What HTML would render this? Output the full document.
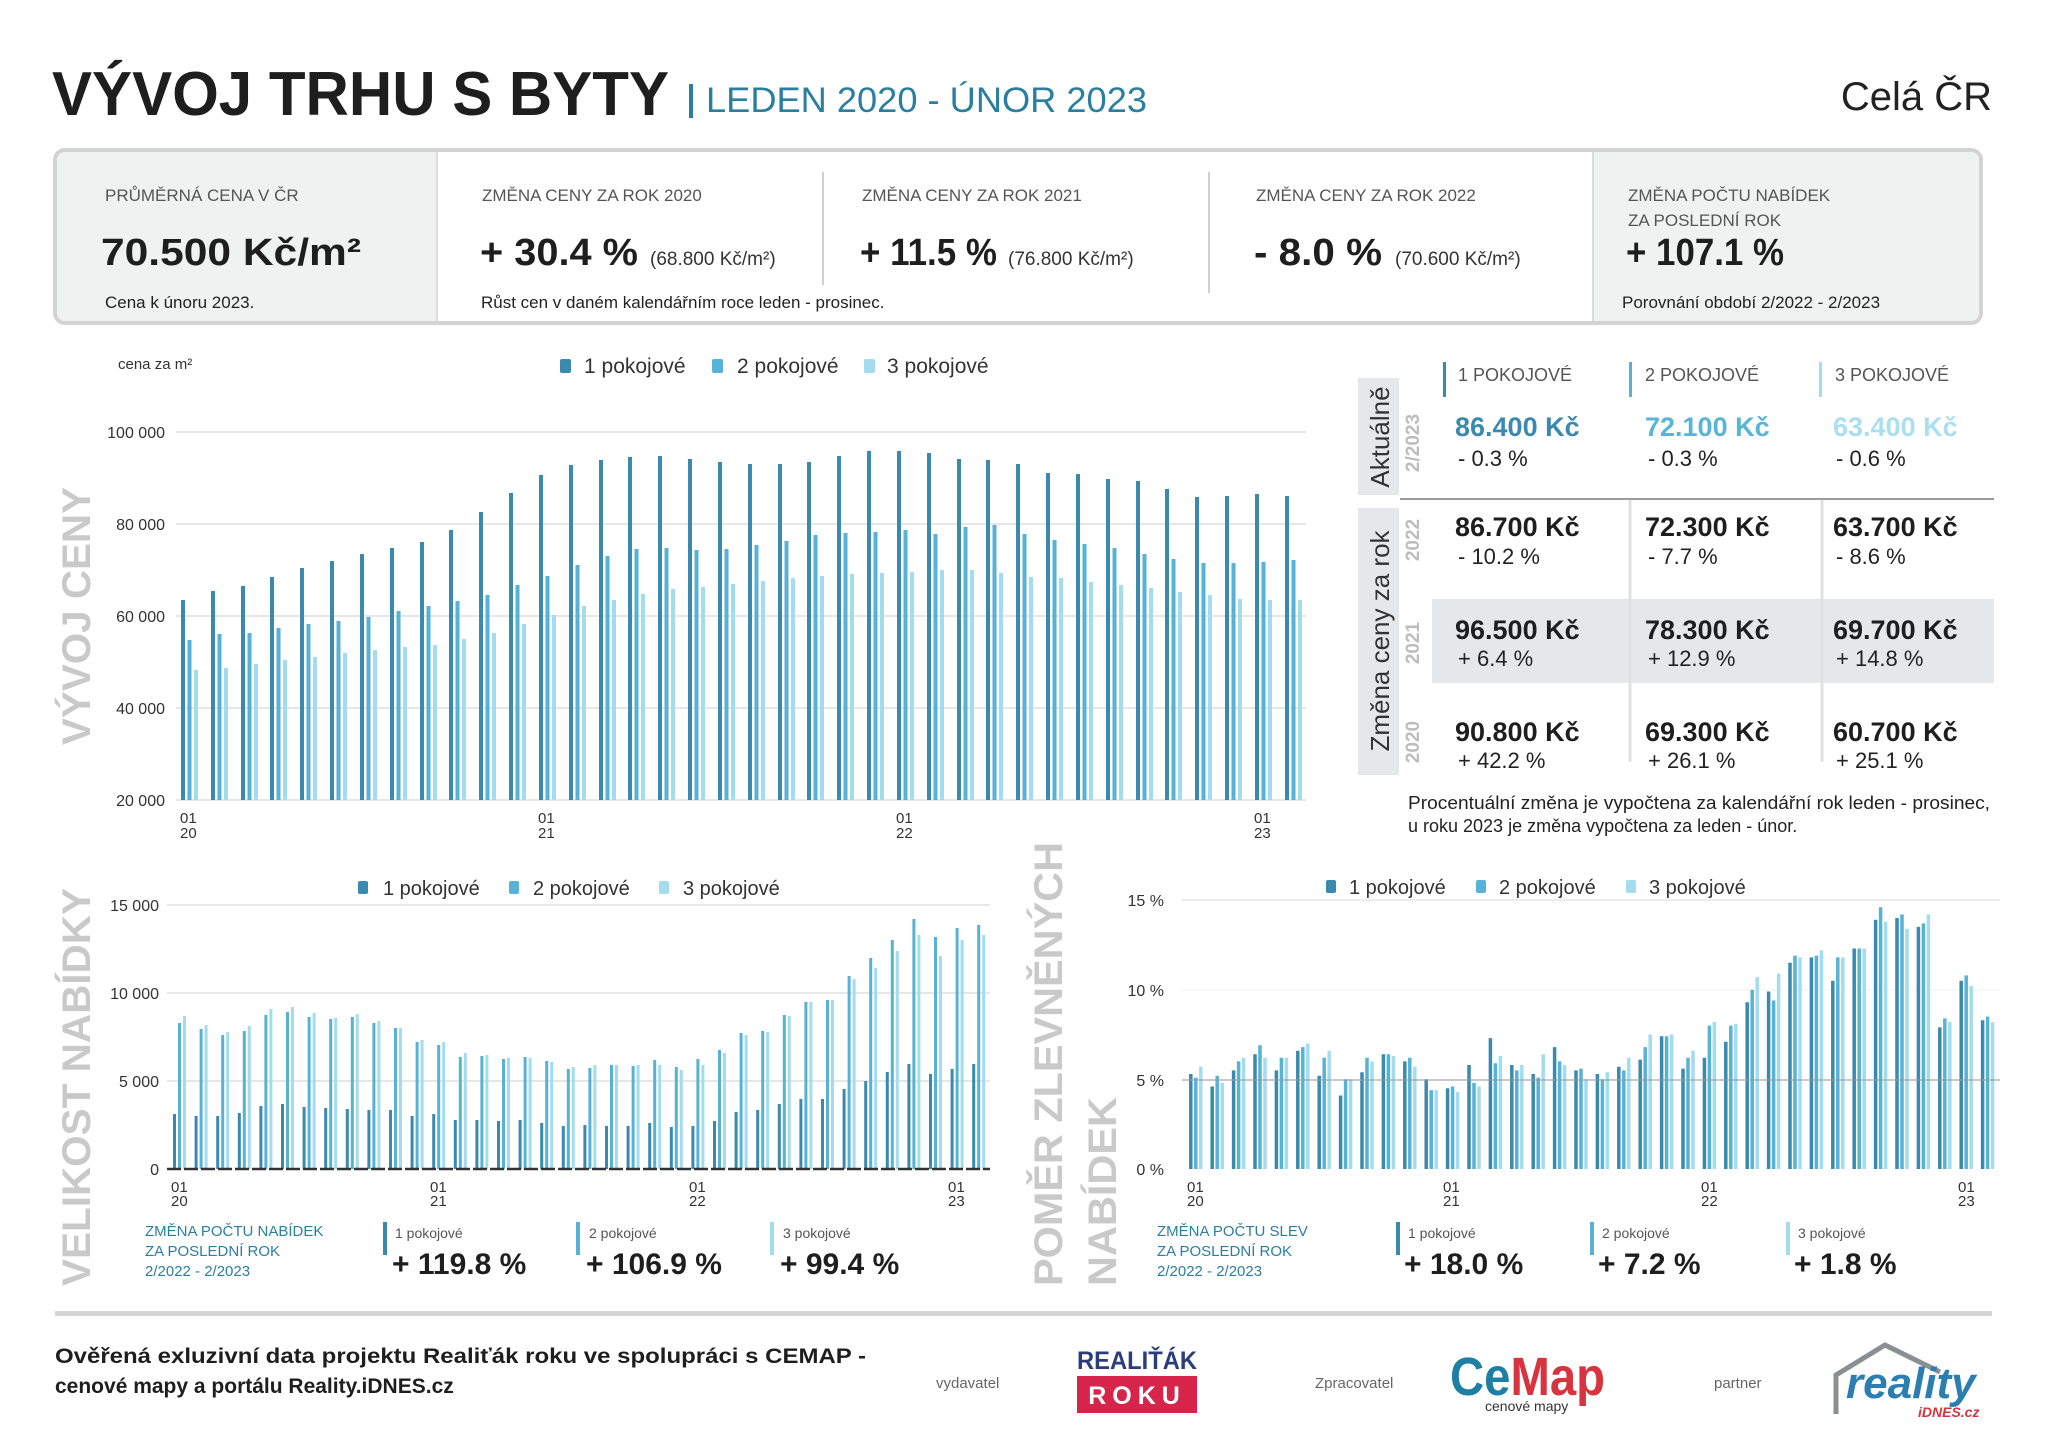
<!DOCTYPE html>
<html><head><meta charset="utf-8"><style>
html,body{margin:0;padding:0;background:#fff;}
svg{display:block;font-family:"Liberation Sans",sans-serif;}
</style></head><body>
<svg width="2048" height="1448" viewBox="0 0 2048 1448" xmlns="http://www.w3.org/2000/svg">
<rect width="2048" height="1448" fill="#fff"/>
<text x="52" y="115" font-size="62" font-weight="bold" fill="#1e1e1e" textLength="617" lengthAdjust="spacingAndGlyphs">VÝVOJ TRHU S BYTY</text>
<rect x="689" y="84" width="4" height="34" fill="#2a7fa0"/>
<text x="706" y="112" font-size="35" fill="#2a7fa0" textLength="441" lengthAdjust="spacingAndGlyphs">LEDEN 2020 - ÚNOR 2023</text>
<text x="1992" y="110" font-size="40" fill="#222" text-anchor="end">Celá ČR</text>

<rect x="55" y="150" width="1926" height="173" rx="10" fill="#fff" stroke="#d3d3d3" stroke-width="4"/>
<path d="M437 152 H65 Q57 152 57 162 V311 Q57 321 65 321 H437 Z" fill="#f0f1f1"/>
<path d="M1593 152 H1971 Q1979 152 1979 162 V311 Q1979 321 1971 321 H1593 Z" fill="#f0f1f1"/>
<line x1="437" y1="152" x2="437" y2="321" stroke="#dcdcdc" stroke-width="2"/>
<line x1="1593" y1="152" x2="1593" y2="321" stroke="#dcdcdc" stroke-width="2"/>
<line x1="823" y1="172" x2="823" y2="285" stroke="#d0d0d0" stroke-width="2"/>
<line x1="1209" y1="172" x2="1209" y2="293" stroke="#d0d0d0" stroke-width="2"/>
<g font-size="17" fill="#555">
<text x="105" y="201">PRŮMĚRNÁ CENA V ČR</text>
<text x="482" y="201">ZMĚNA CENY ZA ROK 2020</text>
<text x="862" y="201">ZMĚNA CENY ZA ROK 2021</text>
<text x="1256" y="201">ZMĚNA CENY ZA ROK 2022</text>
<text x="1628" y="201">ZMĚNA POČTU NABÍDEK</text>
<text x="1628" y="226">ZA POSLEDNÍ ROK</text>
</g>
<g font-size="38" font-weight="bold" fill="#1e1e1e">
<text x="101" y="265" textLength="260" lengthAdjust="spacingAndGlyphs">70.500 Kč/m²</text>
<text x="480" y="265" textLength="158" lengthAdjust="spacingAndGlyphs">+ 30.4 %</text>
<text x="860" y="265" textLength="137" lengthAdjust="spacingAndGlyphs">+ 11.5 %</text>
<text x="1254" y="265" textLength="128" lengthAdjust="spacingAndGlyphs">- 8.0 %</text>
<text x="1626" y="265" textLength="158" lengthAdjust="spacingAndGlyphs">+ 107.1 %</text>
</g>
<g font-size="19" fill="#333">
<text x="650" y="265">(68.800 Kč/m²)</text>
<text x="1008" y="265">(76.800 Kč/m²)</text>
<text x="1395" y="265">(70.600 Kč/m²)</text>
</g>
<g font-size="17" fill="#222">
<text x="105" y="308">Cena k únoru 2023.</text>
<text x="481" y="308">Růst cen v daném kalendářním roce leden - prosinec.</text>
<text x="1622" y="308">Porovnání období 2/2022 - 2/2023</text>
</g>

<!-- Top chart -->
<text x="118" y="369" font-size="15" fill="#333">cena za m²</text>
<g font-size="21" fill="#333">
<rect x="560" y="359" width="11" height="14" rx="2" fill="#3a8ab0"/><text x="584" y="373">1 pokojové</text>
<rect x="712" y="359" width="11" height="14" rx="2" fill="#56b2d6"/><text x="737" y="373">2 pokojové</text>
<rect x="864" y="359" width="11" height="14" rx="2" fill="#a3dcef"/><text x="887" y="373">3 pokojové</text>
</g>
<g stroke="#e7e7e7" stroke-width="2">
<line x1="176" y1="432" x2="1306" y2="432"/>
<line x1="176" y1="524" x2="1306" y2="524"/>
<line x1="176" y1="616" x2="1306" y2="616"/>
<line x1="176" y1="708" x2="1306" y2="708"/>
<line x1="176" y1="800" x2="1306" y2="800"/>
</g>
<g font-size="16" fill="#333" text-anchor="end">
<text x="165" y="438">100 000</text>
<text x="165" y="530">80 000</text>
<text x="165" y="622">60 000</text>
<text x="165" y="714">40 000</text>
<text x="165" y="806">20 000</text>
</g>
<g font-size="15" fill="#333">
<text x="180" y="823">01</text><text x="180" y="838">20</text>
<text x="538" y="823">01</text><text x="538" y="838">21</text>
<text x="896" y="823">01</text><text x="896" y="838">22</text>
<text x="1254" y="823">01</text><text x="1254" y="838">23</text>
</g>
<text transform="translate(90,616) rotate(-90)" font-size="40" font-weight="bold" fill="#c9c9c9" text-anchor="middle" textLength="258" lengthAdjust="spacingAndGlyphs">VÝVOJ CENY</text>
<g fill="none" stroke-width="4">
<path stroke="#3a8ab0" d="M183 800V600M213 800V591M243 800V586M272 800V577M302 800V568M332 800V561M362 800V554M392 800V548M422 800V542M451 800V530M481 800V512M511 800V493M541 800V475M571 800V465M601 800V460M630 800V457M660 800V456M690 800V459M720 800V462M750 800V464M780 800V464M809 800V462M839 800V456M869 800V451M899 800V451M929 800V453M959 800V459M988 800V460M1018 800V464M1048 800V473M1078 800V474M1108 800V479M1138 800V481M1167 800V489M1197 800V497M1227 800V496M1257 800V494M1287 800V496"/>
<path stroke="#56b2d6" transform="translate(6.5,0)" d="M183 800V640M213 800V634M243 800V633M272 800V628M302 800V624M332 800V621M362 800V617M392 800V611M422 800V606M451 800V601M481 800V595M511 800V585M541 800V576M571 800V565M601 800V556M630 800V549M660 800V548M690 800V550M720 800V549M750 800V545M780 800V541M809 800V535M839 800V533M869 800V532M899 800V530M929 800V534M959 800V527M988 800V525M1018 800V534M1048 800V540M1078 800V544M1108 800V548M1138 800V554M1167 800V559M1197 800V563M1227 800V563M1257 800V562M1287 800V560"/>
<path stroke="#a3dcef" transform="translate(13,0)" d="M183 800V670M213 800V668M243 800V664M272 800V660M302 800V657M332 800V653M362 800V650M392 800V647M422 800V645M451 800V639M481 800V633M511 800V624M541 800V615M571 800V606M601 800V600M630 800V594M660 800V589M690 800V587M720 800V584M750 800V581M780 800V578M809 800V576M839 800V574M869 800V573M899 800V572M929 800V570M959 800V570M988 800V573M1018 800V577M1048 800V578M1078 800V582M1108 800V585M1138 800V588M1167 800V592M1197 800V595M1227 800V599M1257 800V600M1287 800V600"/>
</g>

<!-- Table -->
<rect x="1358" y="378" width="41" height="117" fill="#e6e7e8"/>
<rect x="1358" y="508" width="41" height="267" fill="#e6e7e8"/>
<text transform="translate(1389,437) rotate(-90)" font-size="26" fill="#333" text-anchor="middle">Aktuálně</text>
<text transform="translate(1389,641) rotate(-90)" font-size="26" fill="#333" text-anchor="middle">Změna ceny za rok</text>
<g font-size="19" font-weight="bold" fill="#bdbdbd" text-anchor="middle">
<text transform="translate(1419,443) rotate(-90)">2/2023</text>
<text transform="translate(1419,540) rotate(-90)">2022</text>
<text transform="translate(1419,643) rotate(-90)">2021</text>
<text transform="translate(1419,742) rotate(-90)">2020</text>
</g>
<rect x="1432" y="599" width="562" height="84" fill="#e6e7e8"/>
<line x1="1630" y1="500" x2="1630" y2="762" stroke="#e0e0e0" stroke-width="3"/>
<line x1="1822" y1="500" x2="1822" y2="762" stroke="#e0e0e0" stroke-width="3"/>
<line x1="1400" y1="499" x2="1994" y2="499" stroke="#9a9a9a" stroke-width="2"/>
<rect x="1443" y="362" width="3" height="35" fill="#3a8ab0"/>
<rect x="1629" y="362" width="3" height="35" fill="#56b2d6"/>
<rect x="1819" y="362" width="3" height="35" fill="#a3dcef"/>
<g font-size="18" fill="#555">
<text x="1458" y="381">1 POKOJOVÉ</text>
<text x="1645" y="381">2 POKOJOVÉ</text>
<text x="1835" y="381">3 POKOJOVÉ</text>
</g>
<g font-size="27" font-weight="bold">
<text x="1455" y="436" fill="#3a8ab0">86.400 Kč</text>
<text x="1645" y="436" fill="#56b5d9">72.100 Kč</text>
<text x="1833" y="436" fill="#a9dff0">63.400 Kč</text>
</g>
<g font-size="27" font-weight="bold" fill="#1e1e1e">
<text x="1455" y="536">86.700 Kč</text><text x="1645" y="536">72.300 Kč</text><text x="1833" y="536">63.700 Kč</text>
<text x="1455" y="639">96.500 Kč</text><text x="1645" y="639">78.300 Kč</text><text x="1833" y="639">69.700 Kč</text>
<text x="1455" y="741">90.800 Kč</text><text x="1645" y="741">69.300 Kč</text><text x="1833" y="741">60.700 Kč</text>
</g>
<g font-size="22" fill="#222">
<text x="1458" y="466">- 0.3 %</text><text x="1648" y="466">- 0.3 %</text><text x="1836" y="466">- 0.6 %</text>
<text x="1458" y="564">- 10.2 %</text><text x="1648" y="564">- 7.7 %</text><text x="1836" y="564">- 8.6 %</text>
<text x="1458" y="666">+ 6.4 %</text><text x="1648" y="666">+ 12.9 %</text><text x="1836" y="666">+ 14.8 %</text>
<text x="1458" y="768">+ 42.2 %</text><text x="1648" y="768">+ 26.1 %</text><text x="1836" y="768">+ 25.1 %</text>
</g>
<g font-size="18" fill="#222">
<text x="1408" y="809" textLength="582" lengthAdjust="spacingAndGlyphs">Procentuální změna je vypočtena za kalendářní rok leden - prosinec,</text>
<text x="1408" y="832">u roku 2023 je změna vypočtena za leden - únor.</text>
</g>

<!-- Bottom left chart -->
<g font-size="20" fill="#333">
<rect x="358" y="881" width="10" height="13" rx="2" fill="#3a8ab0"/><text x="383" y="895">1 pokojové</text>
<rect x="509" y="881" width="10" height="13" rx="2" fill="#56b2d6"/><text x="533" y="895">2 pokojové</text>
<rect x="659" y="881" width="10" height="13" rx="2" fill="#a3dcef"/><text x="683" y="895">3 pokojové</text>
</g>
<g stroke="#e7e7e7" stroke-width="2">
<line x1="167" y1="905" x2="990" y2="905"/>
<line x1="167" y1="993" x2="990" y2="993"/>
<line x1="167" y1="1081" x2="990" y2="1081"/>
</g>
<g font-size="16" fill="#333" text-anchor="end">
<text x="159" y="911">15 000</text>
<text x="159" y="999">10 000</text>
<text x="159" y="1087">5 000</text>
<text x="159" y="1175">0</text>
</g>
<g font-size="15" fill="#333">
<text x="171" y="1192">01</text><text x="171" y="1206">20</text>
<text x="430" y="1192">01</text><text x="430" y="1206">21</text>
<text x="689" y="1192">01</text><text x="689" y="1206">22</text>
<text x="948" y="1192">01</text><text x="948" y="1206">23</text>
</g>
<text transform="translate(90,1286) rotate(-90)" font-size="40" font-weight="bold" fill="#c9c9c9" textLength="398" lengthAdjust="spacingAndGlyphs">VELIKOST NABÍDKY</text>
<g fill="none" stroke-width="3">
<path stroke="#3a8ab0" d="M174.5 1169V1114M196.1 1169V1116M217.7 1169V1116M239.3 1169V1113M260.9 1169V1106M282.5 1169V1104M304.1 1169V1107M325.7 1169V1108M347.3 1169V1109M368.9 1169V1110M390.5 1169V1110M412.1 1169V1116M433.7 1169V1114M455.3 1169V1120M476.9 1169V1120M498.5 1169V1121M520.1 1169V1120M541.7 1169V1123M563.3 1169V1126M584.9 1169V1125M606.5 1169V1126M628.1 1169V1126M649.7 1169V1123M671.3 1169V1127M692.9 1169V1126M714.5 1169V1121M736.1 1169V1112M757.7 1169V1110M779.3 1169V1104M800.9 1169V1099M822.5 1169V1099M844.1 1169V1089M865.7 1169V1081M887.3 1169V1072M908.9 1169V1064M930.5 1169V1074M952.1 1169V1069M973.7 1169V1064"/>
<path stroke="#56b2d6" transform="translate(5,0)" d="M174.5 1169V1023M196.1 1169V1029M217.7 1169V1035M239.3 1169V1031M260.9 1169V1015M282.5 1169V1012M304.1 1169V1017M325.7 1169V1019M347.3 1169V1017M368.9 1169V1023M390.5 1169V1028M412.1 1169V1042M433.7 1169V1045M455.3 1169V1057M476.9 1169V1056M498.5 1169V1059M520.1 1169V1057M541.7 1169V1061M563.3 1169V1069M584.9 1169V1068M606.5 1169V1065M628.1 1169V1066M649.7 1169V1060M671.3 1169V1067M692.9 1169V1059M714.5 1169V1050M736.1 1169V1033M757.7 1169V1031M779.3 1169V1015M800.9 1169V1002M822.5 1169V1000M844.1 1169V976M865.7 1169V958M887.3 1169V940M908.9 1169V919M930.5 1169V937M952.1 1169V928M973.7 1169V925"/>
<path stroke="#a3dcef" transform="translate(10,0)" d="M174.5 1169V1016M196.1 1169V1025M217.7 1169V1032M239.3 1169V1026M260.9 1169V1009M282.5 1169V1007M304.1 1169V1013M325.7 1169V1018M347.3 1169V1014M368.9 1169V1021M390.5 1169V1028M412.1 1169V1040M433.7 1169V1042M455.3 1169V1053M476.9 1169V1055M498.5 1169V1058M520.1 1169V1058M541.7 1169V1062M563.3 1169V1067M584.9 1169V1065M606.5 1169V1065M628.1 1169V1065M649.7 1169V1065M671.3 1169V1070M692.9 1169V1065M714.5 1169V1053M736.1 1169V1035M757.7 1169V1032M779.3 1169V1016M800.9 1169V1002M822.5 1169V1000M844.1 1169V979M865.7 1169V968M887.3 1169V951M908.9 1169V935M930.5 1169V956M952.1 1169V940M973.7 1169V935"/>
</g>
<line x1="167" y1="1169" x2="990" y2="1169" stroke="#333" stroke-width="2.5" stroke-dasharray="14 3"/>

<!-- Bottom right chart -->
<g font-size="20" fill="#333">
<rect x="1326" y="880" width="10" height="13" rx="2" fill="#3a8ab0"/><text x="1349" y="894">1 pokojové</text>
<rect x="1476" y="880" width="10" height="13" rx="2" fill="#56b2d6"/><text x="1499" y="894">2 pokojové</text>
<rect x="1626" y="880" width="10" height="13" rx="2" fill="#a3dcef"/><text x="1649" y="894">3 pokojové</text>
</g>
<line x1="1182" y1="900" x2="2000" y2="900" stroke="#ececec" stroke-width="2"/>
<line x1="1182" y1="990" x2="2000" y2="990" stroke="#f2f2f2" stroke-width="1"/>
<g font-size="16" fill="#333" text-anchor="end">
<text x="1164" y="906">15 %</text>
<text x="1164" y="996">10 %</text>
<text x="1164" y="1086">5 %</text>
<text x="1164" y="1175">0 %</text>
</g>
<g font-size="15" fill="#333">
<text x="1187" y="1192">01</text><text x="1187" y="1206">20</text>
<text x="1443" y="1192">01</text><text x="1443" y="1206">21</text>
<text x="1701" y="1192">01</text><text x="1701" y="1206">22</text>
<text x="1958" y="1192">01</text><text x="1958" y="1206">23</text>
</g>
<g font-size="40" font-weight="bold" fill="#c9c9c9">
<text transform="translate(1062,1286) rotate(-90)" textLength="444" lengthAdjust="spacingAndGlyphs">POMĚR ZLEVNĚNÝCH</text>
<text transform="translate(1116,1286) rotate(-90)" textLength="189" lengthAdjust="spacingAndGlyphs">NABÍDEK</text>
</g>
<g fill="none" stroke-width="3.5">
<path stroke="#3a8ab0" d="M1190.8 1169V1074M1212.2 1169V1086.5M1233.6 1169V1070.4M1255 1169V1054.2M1276.4 1169V1070.4M1297.8 1169V1050.7M1319.2 1169V1075.8M1340.6 1169V1095.5M1362 1169V1072.2M1383.4 1169V1054.2M1404.8 1169V1061.4M1426.2 1169V1079.3M1447.6 1169V1088.3M1469 1169V1065M1490.4 1169V1038.1M1511.8 1169V1065M1533.2 1169V1074M1554.6 1169V1047.1M1576 1169V1070.4M1597.4 1169V1074M1618.8 1169V1066.8M1640.2 1169V1059.6M1661.6 1169V1036.3M1683 1169V1068.6M1704.4 1169V1057.8M1725.8 1169V1041.7M1747.2 1169V1002.3M1768.6 1169V991.5M1790 1169V962.8M1811.4 1169V957.4M1832.8 1169V980.7M1854.2 1169V948.5M1875.6 1169V919.8M1897 1169V918M1918.4 1169V926.9M1939.8 1169V1027.4M1961.2 1169V980.7M1982.6 1169V1020.2"/>
<path stroke="#56b2d6" transform="translate(5,0)" d="M1190.8 1169V1077.6M1212.2 1169V1075.8M1233.6 1169V1061.4M1255 1169V1045.3M1276.4 1169V1057.8M1297.8 1169V1047.1M1319.2 1169V1057.8M1340.6 1169V1079.3M1362 1169V1057.8M1383.4 1169V1054.2M1404.8 1169V1057.8M1426.2 1169V1090.1M1447.6 1169V1086.5M1469 1169V1082.9M1490.4 1169V1063.2M1511.8 1169V1070.4M1533.2 1169V1077.6M1554.6 1169V1061.4M1576 1169V1068.6M1597.4 1169V1079.3M1618.8 1169V1070.4M1640.2 1169V1047.1M1661.6 1169V1036.3M1683 1169V1057.8M1704.4 1169V1025.6M1725.8 1169V1025.6M1747.2 1169V989.7M1768.6 1169V1000.5M1790 1169V955.6M1811.4 1169V955.6M1832.8 1169V957.4M1854.2 1169V948.5M1875.6 1169V907.2M1897 1169V914.4M1918.4 1169V923.4M1939.8 1169V1018.4M1961.2 1169V975.4M1982.6 1169V1016.6"/>
<path stroke="#a3dcef" transform="translate(10,0)" d="M1190.8 1169V1066.8M1212.2 1169V1082.9M1233.6 1169V1057.8M1255 1169V1057.8M1276.4 1169V1057.8M1297.8 1169V1043.5M1319.2 1169V1050.7M1340.6 1169V1079.3M1362 1169V1061.4M1383.4 1169V1056M1404.8 1169V1066.8M1426.2 1169V1090.1M1447.6 1169V1091.9M1469 1169V1086.5M1490.4 1169V1056M1511.8 1169V1065M1533.2 1169V1054.2M1554.6 1169V1065M1576 1169V1079.3M1597.4 1169V1072.2M1618.8 1169V1057.8M1640.2 1169V1034.5M1661.6 1169V1034.5M1683 1169V1050.7M1704.4 1169V1022M1725.8 1169V1023.8M1747.2 1169V977.1M1768.6 1169V973.6M1790 1169V957.4M1811.4 1169V950.3M1832.8 1169V957.4M1854.2 1169V948.5M1875.6 1169V921.6M1897 1169V928.7M1918.4 1169V914.4M1939.8 1169V1022M1961.2 1169V986.1M1982.6 1169V1022"/>
</g>
<line x1="1182" y1="1080" x2="2000" y2="1080" stroke="#999" stroke-width="1.5" opacity="0.7"/>

<!-- Stats -->
<g font-size="15" fill="#2b7fa0">
<text x="145" y="1236">ZMĚNA POČTU NABÍDEK</text>
<text x="145" y="1256">ZA POSLEDNÍ ROK</text>
<text x="145" y="1276">2/2022 - 2/2023</text>
<text x="1157" y="1236">ZMĚNA POČTU SLEV</text>
<text x="1157" y="1256">ZA POSLEDNÍ ROK</text>
<text x="1157" y="1276">2/2022 - 2/2023</text>
</g>
<g>
<rect x="383" y="1222" width="4" height="33" fill="#3a8ab0"/>
<rect x="576" y="1222" width="4" height="33" fill="#56b2d6"/>
<rect x="770" y="1222" width="4" height="33" fill="#a3dcef"/>
<rect x="1396" y="1222" width="4" height="33" fill="#3a8ab0"/>
<rect x="1590" y="1222" width="4" height="33" fill="#56b2d6"/>
<rect x="1786" y="1222" width="4" height="33" fill="#a3dcef"/>
</g>
<g font-size="14" fill="#555">
<text x="395" y="1238">1 pokojové</text><text x="589" y="1238">2 pokojové</text><text x="783" y="1238">3 pokojové</text>
<text x="1408" y="1238">1 pokojové</text><text x="1602" y="1238">2 pokojové</text><text x="1798" y="1238">3 pokojové</text>
</g>
<g font-size="30" font-weight="bold" fill="#1e1e1e">
<text x="392" y="1274">+ 119.8 %</text><text x="586" y="1274">+ 106.9 %</text><text x="780" y="1274">+ 99.4 %</text>
<text x="1404" y="1274">+ 18.0 %</text><text x="1598" y="1274">+ 7.2 %</text><text x="1794" y="1274">+ 1.8 %</text>
</g>

<!-- Footer -->
<rect x="55" y="1311" width="1937" height="5" fill="#d6d6d6"/>
<g font-size="21" font-weight="bold" fill="#1e1e1e">
<text x="55" y="1363" textLength="811" lengthAdjust="spacingAndGlyphs">Ověřená exluzivní data projektu Realiťák roku ve spolupráci s CEMAP -</text>
<text x="55" y="1393">cenové mapy a portálu Reality.iDNES.cz</text>
</g>
<g font-size="15" fill="#666">
<text x="936" y="1388">vydavatel</text>
<text x="1315" y="1388">Zpracovatel</text>
<text x="1714" y="1388">partner</text>
</g>
<text x="1077" y="1369" font-size="25" font-weight="bold" fill="#2a3e7c" textLength="120" lengthAdjust="spacingAndGlyphs">REALIŤÁK</text>
<rect x="1077" y="1376" width="120" height="37" fill="#d6244a"/>
<text x="1137" y="1404" font-size="25" font-weight="bold" fill="#fff" text-anchor="middle" letter-spacing="6">ROKU</text>
<text x="1450" y="1395" font-size="54" font-weight="bold" textLength="155" lengthAdjust="spacingAndGlyphs"><tspan fill="#1d7fa3">Ce</tspan><tspan fill="#d8333f">Map</tspan></text>
<text x="1485" y="1411" font-size="14" fill="#333">cenové mapy</text>
<path d="M1836 1414 V1375 L1885 1345 L1940 1372" fill="none" stroke="#8a8f94" stroke-width="5"/>
<text x="1846" y="1398" font-size="44" font-weight="bold" font-style="italic" fill="#2a7fb0">reality</text>
<text x="1918" y="1417" font-size="14" font-weight="bold" font-style="italic" fill="#d8333f">iDNES.cz</text>
</svg>
</body></html>
